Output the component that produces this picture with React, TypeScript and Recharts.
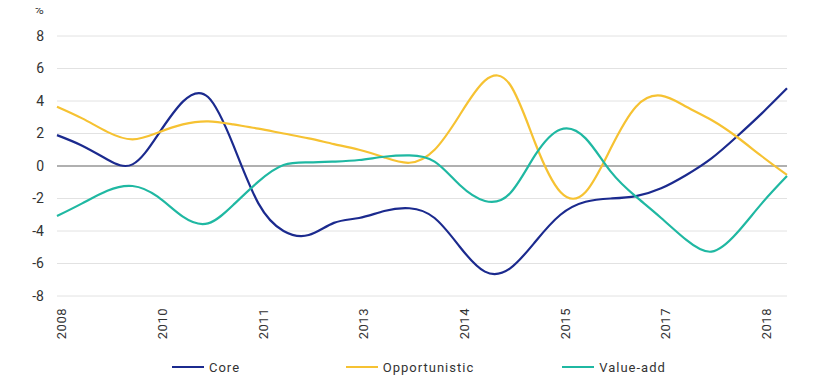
import React from 'react';
import { LineChart, Line, XAxis, YAxis, CartesianGrid, ReferenceLine, Legend } from 'recharts';

const categories = [
  '2008', '2008', '2009', '2009', '2010', '2010', '2010', '2011', '2011', '2011',
  '2012', '2012', '2013', '2013', '2013', '2014', '2014', '2014', '2015', '2015',
  '2015', '2016', '2016', '2016', '2017', '2017', '2018', '2018', '2018', '2018',
];

const core = [
  1.9, 1.25, 0.4, 0.1, 1.9, 3.96, 4.25, 1.3, -2.3, -4.0,
  -4.25, -3.5, -3.2, -2.77, -2.6, -3.2, -4.97, -6.5, -6.3, -4.66,
  -3.0, -2.2, -2.0, -1.85, -1.37, -0.55, 0.47, 1.8, 3.24, 4.78,
];

const opportunistic = [
  3.65, 2.93, 2.1, 1.64, 2.05, 2.56, 2.75, 2.56, 2.3, 2.0,
  1.7, 1.35, 1.0, 0.53, 0.2, 1.0, 3.14, 5.25, 5.0, 1.4,
  -1.6, -1.6, 1.09, 3.65, 4.33, 3.65, 2.83, 1.8, 0.6, -0.55,
];

const valueAdd = [
  -3.08, -2.3, -1.52, -1.23, -1.89, -3.12, -3.53, -2.4, -0.96, 0.06,
  0.22, 0.27, 0.37, 0.57, 0.65, 0.27, -1.17, -2.15, -1.68, 0.68,
  2.25, 1.7, -0.35, -1.89, -3.2, -4.55, -5.27, -4.14, -2.3, -0.62,
];

const yTicks = [-8, -6, -4, -2, 0, 2, 4, 6, 8];

const seriesNames = ['Core', 'Opportunistic', 'Value-add'];
const seriesColors = ['#1b2a8e', '#f6c232', '#1fb8a2'];

const data = categories.map((c, i) => ({
  period: c,
  core: core[i],
  opportunistic: opportunistic[i],
  valueAdd: valueAdd[i],
}));

const FONT = 'Roboto, "Noto Sans", sans-serif';

const renderLegend = (props: any) => {
  const { payload } = props;
  return (
    <div style={{ display: 'flex', justifyContent: 'center', height: 20, alignItems: 'center' }}>
      {payload.map((entry: any) => (
        <div key={entry.value} style={{ width: 204, display: 'flex', justifyContent: 'center', alignItems: 'center' }}>
          <span style={{ display: 'inline-block', width: 32, height: 2, background: entry.color, marginRight: 5 }} />
          <span style={{ fontFamily: FONT, fontSize: 13, color: '#333', letterSpacing: 1 }}>{entry.value}</span>
        </div>
      ))}
    </div>
  );
};

const PercentLabel = () => {
  return (
    <text x={39} y={14} textAnchor="middle" fontFamily={FONT} fontSize={13} fill="#444">
      %
    </text>
  );
};

export default function App() {
  return (
    <div style={{ margin: '-8px 0 0 -8px', width: 825, height: 381, fontFamily: FONT }}>
      <LineChart width={825} height={381} data={data} margin={{ top: 36, right: 38, left: 0, bottom: 4 }}>
        <CartesianGrid horizontal vertical={false} stroke="#e2e2e2" strokeWidth={1} />
        <XAxis
          dataKey="period"
          interval={3}
          axisLine={false}
          tickLine={false}
          tickSize={6}
          tickMargin={6}
          height={61}
          tick={{ angle: -90, textAnchor: 'end', verticalAnchor: 'middle', fill: '#333', fontSize: 13, fontFamily: FONT, letterSpacing: 0.5 }}
        />
        <YAxis
          domain={[-8, 8]}
          ticks={yTicks}
          width={57}
          axisLine={false}
          tickLine={false}
          tickSize={6}
          tickMargin={7}
          tick={{ fill: '#333', fontSize: 14, fontFamily: FONT }}
          label={{ content: <PercentLabel /> }}
        />
        <ReferenceLine y={0} stroke="#b0b0b0" strokeWidth={2} />
        <Legend
          verticalAlign="bottom"
          height={20}
          content={renderLegend}
          wrapperStyle={{ left: 0, width: 820, bottom: 4 }}
        />
        <Line type="natural" dataKey="core" name={seriesNames[0]} stroke={seriesColors[0]} strokeWidth={2.2} dot={false} isAnimationActive={false} />
        <Line type="natural" dataKey="opportunistic" name={seriesNames[1]} stroke={seriesColors[1]} strokeWidth={2.2} dot={false} isAnimationActive={false} />
        <Line type="natural" dataKey="valueAdd" name={seriesNames[2]} stroke={seriesColors[2]} strokeWidth={2.2} dot={false} isAnimationActive={false} />
      </LineChart>
    </div>
  );
}
